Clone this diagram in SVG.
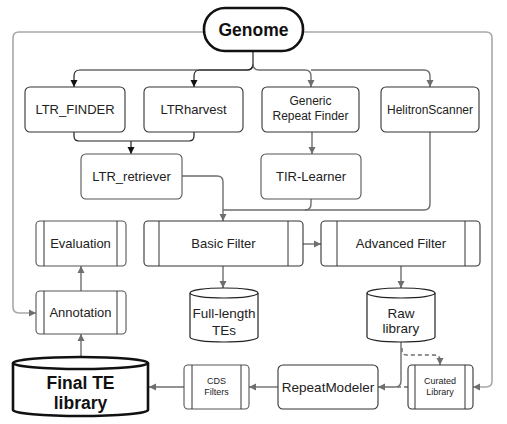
<svg xmlns="http://www.w3.org/2000/svg" width="507" height="424" viewBox="0 0 507 424">
<style>
text{font-family:"Liberation Sans",Arial,sans-serif;fill:#222;text-anchor:middle}
.box{fill:#fff;stroke:#333;stroke-width:1.1}
.gbox{fill:#fff;stroke:#555;stroke-width:1.1}
.ln{fill:none;stroke:#333;stroke-width:1}
.c{fill:none;stroke:#6e6e6e;stroke-width:1.4}
.cb{fill:none;stroke:#222;stroke-width:1.2}
.lp{fill:none;stroke:#a8a8a8;stroke-width:1.6}
.d{stroke-dasharray:4 3}
.t13{font-size:13px}
.t12{font-size:12px}
.t9{font-size:9px}
</style>
<defs>
<marker id="ag" markerUnits="userSpaceOnUse" markerWidth="8" markerHeight="8" refX="7" refY="4" orient="auto"><path d="M0,0.5 L7,4 L0,7.5 Z" fill="#6e6e6e"/></marker>
<marker id="ab" markerUnits="userSpaceOnUse" markerWidth="8" markerHeight="8" refX="7" refY="4" orient="auto"><path d="M0,0.5 L7,4 L0,7.5 Z" fill="#111"/></marker>
</defs>
<rect width="507" height="424" fill="#fff"/>
<g id="connectors">
<path class="lp" d="M204,32 H19 Q13,32 13,38 V307 Q13,313 19,313 H36" marker-end="url(#ag)"/>
<path class="lp" d="M303,32 H486 Q492,32 492,38 V381 Q492,387 486,387 H473" marker-end="url(#ag)"/>
<path class="cb" d="M253,51 V64 Q253,70 247,70 H80 Q74,70 74,76 V87" marker-end="url(#ab)"/>
<path class="cb" d="M253,64 Q253,70 247,70 H200 Q194,70 194,76 V87" marker-end="url(#ab)"/>
<path class="c" d="M253,64 Q253,70 259,70 H305 Q311,70 311,76 V87" marker-end="url(#ag)"/>
<path class="c" d="M311,70 H424 Q430,70 430,76 V87" marker-end="url(#ag)"/>
<path class="cb" d="M74,132 V136 Q74,141 79,141 H189 Q194,141 194,136 V132"/>
<path class="cb" d="M131,141 V154" marker-end="url(#ab)"/>
<path class="c" d="M312,132 V154" marker-end="url(#ag)"/>
<path class="c" d="M182,176 H217 Q223,176 223,182 V221" marker-end="url(#ag)"/>
<path class="c" d="M311,199 V204 Q311,210 305,210 H223"/>
<path class="c" d="M430,132 V204 Q430,210 424,210 H305"/>
<path class="c" d="M303,244 H321" marker-end="url(#ag)"/>
<path class="c" d="M223,266 V288" marker-end="url(#ag)"/>
<path class="c" d="M401,266 V288" marker-end="url(#ag)"/>
<path class="c" d="M81,291 V266" marker-end="url(#ag)"/>
<path class="c" d="M81,357 V334" marker-end="url(#ag)"/>
<path class="c" d="M184,387 H149" marker-end="url(#ag)"/>
<path class="c" d="M278,387 H249" marker-end="url(#ag)"/>
<path class="c" d="M401,342 V381 Q401,387 395,387 H378" marker-end="url(#ag)"/>
<path class="c d" d="M408,387 H396"/>
<path class="c d" d="M402,348 V351 Q402,355 407,355 H434 Q440,355 440,360 V365" marker-end="url(#ag)"/>
</g>
<g id="genome">
<rect x="204" y="8" width="99" height="43" rx="21" fill="#fff" stroke="#111" stroke-width="2.6"/>
<text x="253.5" y="36" style="font-size:17.5px;font-weight:bold;fill:#111">Genome</text>
</g>
<g id="ltr_finder">
<rect class="box" x="25" y="87" width="100" height="45" rx="5"/>
<text class="t13" x="75" y="114">LTR_FINDER</text>
</g>
<g id="ltrharvest">
<rect class="box" x="144" y="87" width="99" height="45" rx="5"/>
<text class="t13" x="193.5" y="114">LTRharvest</text>
</g>
<g id="generic_repeat_finder">
<rect class="box" x="262" y="87" width="97" height="45" rx="5"/>
<text class="t12" x="310.5" y="105">Generic</text>
<text class="t12" x="310.5" y="120">Repeat Finder</text>
</g>
<g id="helitronscanner">
<rect class="box" x="381" y="87" width="98" height="45" rx="5"/>
<text class="t12" x="430" y="114">HelitronScanner</text>
</g>
<g id="ltr_retriever">
<rect class="gbox" x="81" y="154" width="101" height="45" rx="5"/>
<text class="t13" x="131.5" y="181">LTR_retriever</text>
</g>
<g id="tir_learner">
<rect class="gbox" x="261" y="154" width="100" height="45" rx="5"/>
<text class="t13" x="311" y="181">TIR-Learner</text>
</g>
<g id="evaluation">
<rect class="gbox" x="36" y="221" width="90" height="45" rx="4"/>
<path class="ln" d="M44,221 V266 M117,221 V266"/>
<text class="t13" x="80.5" y="248">Evaluation</text>
</g>
<g id="basic_filter">
<rect class="box" x="144" y="221" width="159" height="45" rx="4"/>
<path class="ln" d="M159,221 V266 M288,221 V266"/>
<text class="t13" x="223.5" y="248">Basic Filter</text>
</g>
<g id="advanced_filter">
<rect class="box" x="321" y="221" width="159" height="45" rx="4"/>
<path class="ln" d="M337,221 V266 M465,221 V266"/>
<text class="t13" x="401" y="248">Advanced Filter</text>
</g>
<g id="annotation">
<rect class="gbox" x="36" y="291" width="90" height="43" rx="4"/>
<path class="ln" d="M44,291 V334 M117,291 V334"/>
<text class="t13" x="80.5" y="317">Annotation</text>
</g>
<g id="full_length_tes">
<path d="M190,293 A34,5 0 0 1 258,293 V337 A34,5 0 0 1 190,337 Z" fill="#fff" stroke="#222" stroke-width="1.2"/>
<path d="M190,293 A34,5 0 0 0 258,293" fill="none" stroke="#222" stroke-width="1.2"/>
<text x="224" y="318" style="font-size:13.5px">Full-length</text>
<text x="224" y="335" style="font-size:13.5px">TEs</text>
</g>
<g id="raw_library">
<path d="M367,293 A34,5 0 0 1 435,293 V337 A34,5 0 0 1 367,337 Z" fill="#fff" stroke="#222" stroke-width="1.2"/>
<path d="M367,293 A34,5 0 0 0 435,293" fill="none" stroke="#222" stroke-width="1.2"/>
<text x="401" y="318" style="font-size:13.5px">Raw</text>
<text x="401" y="333" style="font-size:13.5px">library</text>
</g>
<g id="final_te_library">
<path d="M13,363 A67.5,6 0 0 1 148,363 V410 A67.5,6 0 0 1 13,410 Z" fill="#fff" stroke="#111" stroke-width="2.6"/>
<path d="M13,363 A67.5,6 0 0 0 148,363" fill="none" stroke="#111" stroke-width="2.6"/>
<text x="80.5" y="389" style="font-size:17.5px;font-weight:bold;fill:#111">Final TE</text>
<text x="80.5" y="409" style="font-size:17.5px;font-weight:bold;fill:#111">library</text>
</g>
<g id="cds_filters">
<rect class="gbox" x="184" y="365" width="65" height="44" rx="4"/>
<path class="ln" d="M192,365 V409 M241,365 V409"/>
<text class="t9" x="216.5" y="384">CDS</text>
<text class="t9" x="216.5" y="395">Filters</text>
</g>
<g id="repeatmodeler">
<rect class="box" x="278" y="365" width="100" height="44" rx="5"/>
<text x="328" y="392" style="font-size:13.5px">RepeatModeler</text>
</g>
<g id="curated_library">
<rect class="box" x="408" y="365" width="65" height="44" rx="4"/>
<path class="ln" d="M415,365 V409 M465,365 V409"/>
<text class="t9" x="440" y="384">Curated</text>
<text class="t9" x="440" y="395">Library</text>
</g>
</svg>
